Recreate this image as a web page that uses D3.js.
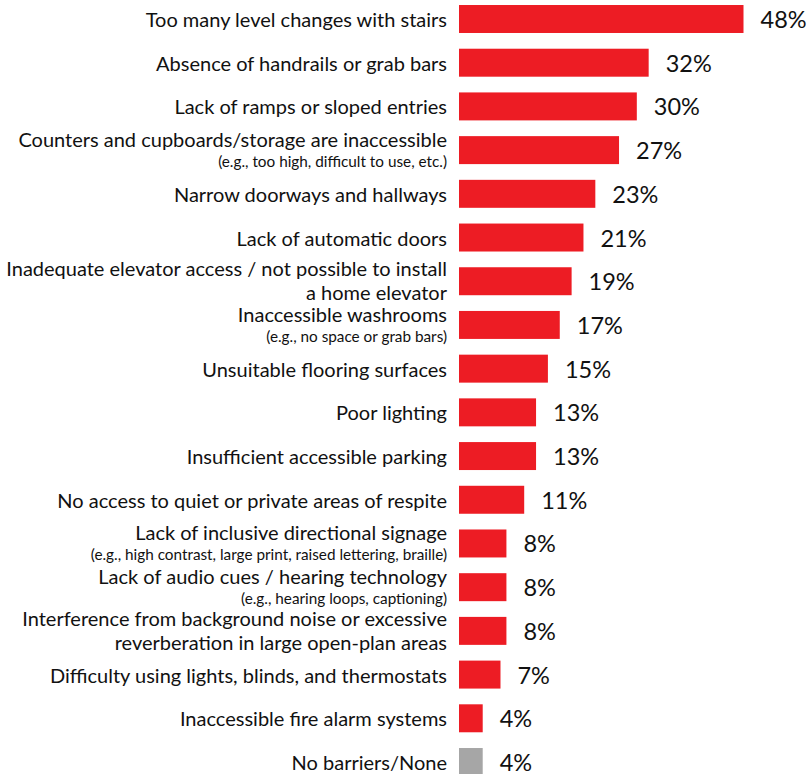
<!DOCTYPE html>
<html>
<head>
<meta charset="utf-8">
<script src="https://cdn.jsdelivr.net/npm/d3@7"></script>
<style>
  html, body { margin: 0; padding: 0; background: #fff; }
  svg { display: block; }
  text { font-family: Lato, "Open Sans", sans-serif; fill: #111; }
</style>
</head>
<body>
<svg id="chart" width="808" height="774"></svg>
<script>
// Barrier categories, one entry per row (multi-line labels split into lines)
const categories = [
  ["Too many level changes with stairs"],
  ["Absence of handrails or grab bars"],
  ["Lack of ramps or sloped entries"],
  ["Counters and cupboards/storage are inaccessible"],
  ["Narrow doorways and hallways"],
  ["Lack of automatic doors"],
  ["Inadequate elevator access / not possible to install", "a home elevator"],
  ["Inaccessible washrooms"],
  ["Unsuitable flooring surfaces"],
  ["Poor lighting"],
  ["Insufficient accessible parking"],
  ["No access to quiet or private areas of respite"],
  ["Lack of inclusive directional signage"],
  ["Lack of audio cues / hearing technology"],
  ["Interference from background noise or excessive", "reverberation in large open-plan areas"],
  ["Difficulty using lights, blinds, and thermostats"],
  ["Inaccessible fire alarm systems"],
  ["No barriers/None"]
];

// Smaller explanatory notes shown under some categories
const notes = [
  null, null, null,
  "(e.g., too high, difficult to use, etc.)",
  null, null, null,
  "(e.g., no space or grab bars)",
  null, null, null, null,
  "(e.g., high contrast, large print, raised lettering, braille)",
  "(e.g., hearing loops, captioning)",
  null, null, null, null
];

// Share of respondents reporting each barrier (%)
const values = [48, 32, 30, 27, 23, 21, 19, 17, 15, 13, 13, 11, 8, 8, 8, 7, 4, 4];

// Row type: a reported barrier, or the "none" response
const rowTypes = [
  "barrier", "barrier", "barrier", "barrier", "barrier", "barrier",
  "barrier", "barrier", "barrier", "barrier", "barrier", "barrier",
  "barrier", "barrier", "barrier", "barrier", "barrier", "none"
];

const rows = values.map((v, i) => ({
  lines: categories[i], note: notes[i], value: v, type: rowTypes[i]
}));

const svg = d3.select("#chart");

const x = d3.scaleLinear().domain([0, 48]).range([459, 743.5]);
const y = d3.scalePoint().domain(d3.range(rows.length)).range([19, 762]);
const barH = y.step() * 0.64;
const color = d3.scaleOrdinal().domain(["barrier", "none"]).range(["#ED1C24", "#A6A6A6"]);

const labelX = 447;

const row = svg.selectAll("g.row")
  .data(rows)
  .join("g")
  .attr("class", "row")
  .attr("transform", (d, i) => `translate(0,${y(i)})`);

row.append("rect")
  .attr("x", x(0))
  .attr("y", -barH / 2)
  .attr("width", d => x(d.value) - x(0))
  .attr("height", barH)
  .attr("fill", d => color(d.type));

row.append("text")
  .attr("x", d => x(d.value) + 17)
  .attr("y", 9)
  .style("font-size", "23.5px")
  .text(d => d.value + "%");

const label = row.append("text")
  .attr("text-anchor", "end")
  .style("font-size", "20px");

label.each(function(d) {
  const t = d3.select(this);
  if (d.lines.length === 2) {
    t.append("tspan").attr("x", labelX).attr("y", -5).text(d.lines[0]);
    t.append("tspan").attr("x", labelX).attr("y", 19).text(d.lines[1]);
  } else if (d.note) {
    t.append("tspan").attr("x", labelX).attr("y", -3).text(d.lines[0]);
    t.append("tspan").attr("x", labelX).attr("y", 17)
      .style("font-size", "15.3px").text(d.note);
  } else {
    t.append("tspan").attr("x", labelX).attr("y", 8).text(d.lines[0]);
  }
});
</script>
</body>
</html>
